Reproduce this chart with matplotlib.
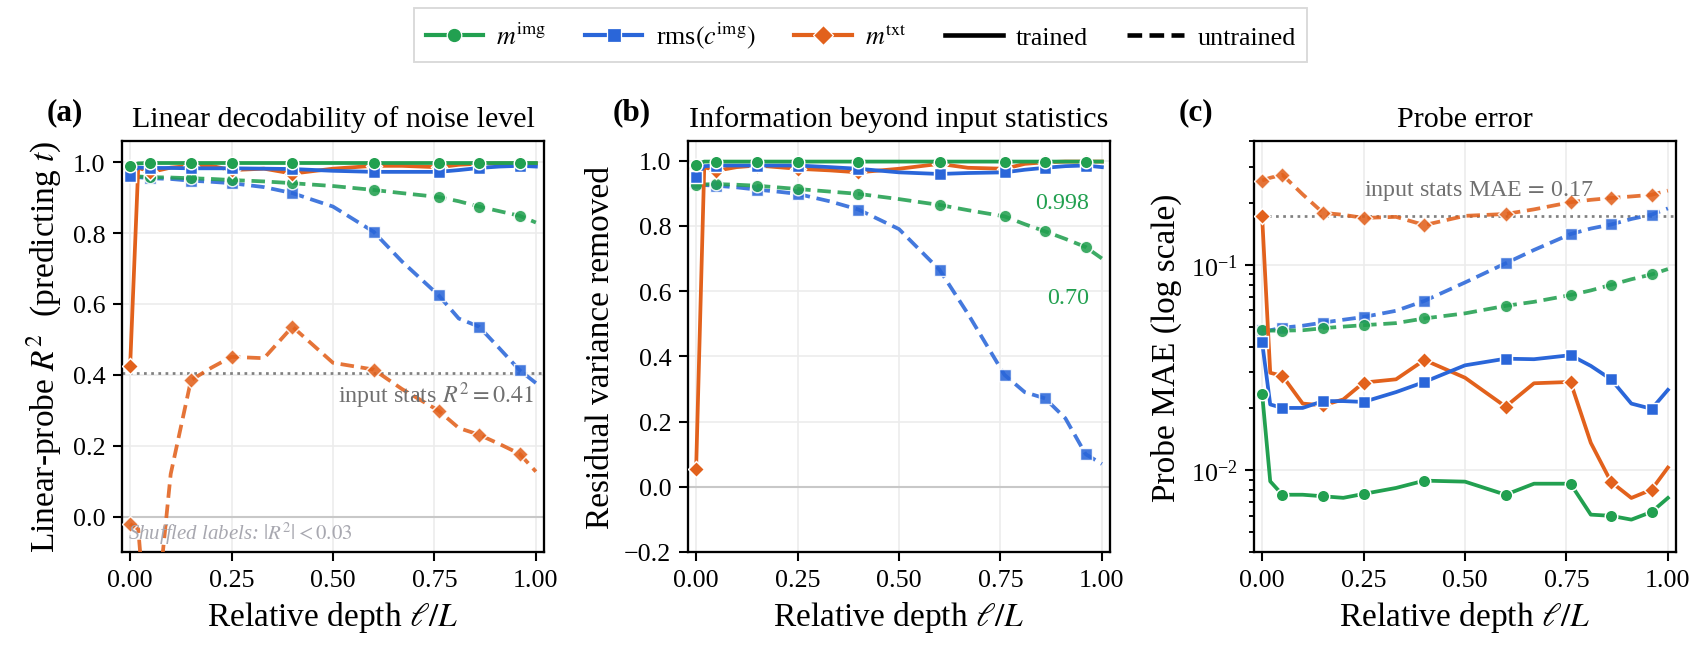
"""Layer-wise probes of the noise level: R^2, residual variance removed and MAE
for trained vs untrained networks, three probed quantities per layer."""
import matplotlib
matplotlib.use("Agg")
import matplotlib.pyplot as plt
from matplotlib.lines import Line2D
from matplotlib.ticker import FuncFormatter

plt.rcParams["font.family"] = ["Liberation Serif", "DejaVu Serif"]
plt.rcParams["mathtext.fontset"] = "stix"

GREEN, BLUE, ORANGE = "#22a050", "#2a66d9", "#e2611c"
GRID, ZERO, REF = "#ececec", "#c8c8c8", "#808080"

# relative depth l/L of every probed layer
X = [0, 0.02, 0.05, 0.1, 0.15, 0.2, 0.25, 0.33, 0.4, 0.5, 0.6, 0.67,
     0.76, 0.81, 0.86, 0.91, 0.96, 1.0]

# (a) linear-probe R^2
mimg_tr_a = [0.989, 0.997, 0.998, 0.998, 0.998, 0.998, 0.998, 0.998, 0.998,
             0.998, 0.998, 0.998, 0.998, 0.998, 0.998, 0.998, 0.998, 0.998]
rms_tr_a = [0.962, 0.985, 0.984, 0.984, 0.983, 0.983, 0.983, 0.982, 0.981,
            0.976, 0.973, 0.973, 0.973, 0.978, 0.984, 0.988, 0.990, 0.988]
mtxt_tr_a = [0.424, 0.985, 0.972, 0.985, 0.990, 0.990, 0.978, 0.982, 0.968,
             0.982, 0.990, 0.990, 0.986, 0.993, 0.996, 0.997, 0.997, 0.997]
mimg_un_a = [0.962, 0.960, 0.958, 0.957, 0.955, 0.953, 0.950, 0.946, 0.941,
             0.933, 0.922, 0.913, 0.902, 0.890, 0.875, 0.862, 0.849, 0.830]
rms_un_a = [0.962, 0.958, 0.955, 0.953, 0.948, 0.945, 0.941, 0.930, 0.913,
            0.875, 0.804, 0.720, 0.625, 0.559, 0.536, 0.475, 0.413, 0.377]
mtxt_un_a = [-0.021, -0.035, -0.45, 0.12, 0.385, 0.42, 0.451, 0.447, 0.536,
             0.434, 0.415, 0.36, 0.299, 0.25, 0.231, 0.205, 0.177, 0.127]

# (b) residual variance removed
mimg_tr_b = [0.987, 0.997, 0.997, 0.997, 0.997, 0.997, 0.997, 0.997, 0.997,
             0.997, 0.997, 0.997, 0.997, 0.997, 0.997, 0.997, 0.997, 0.997]
rms_tr_b = [0.949, 0.983, 0.985, 0.985, 0.985, 0.985, 0.985, 0.980, 0.975,
            0.964, 0.959, 0.962, 0.964, 0.972, 0.978, 0.983, 0.985, 0.980]
mtxt_tr_b = [0.054, 0.980, 0.969, 0.980, 0.985, 0.980, 0.975, 0.970, 0.964,
             0.975, 0.990, 0.978, 0.975, 0.990, 0.995, 0.997, 0.997, 0.997]
mimg_un_b = [0.925, 0.927, 0.928, 0.926, 0.923, 0.918, 0.913, 0.905, 0.898,
             0.882, 0.864, 0.848, 0.829, 0.805, 0.783, 0.760, 0.735, 0.700]
rms_un_b = [0.930, 0.925, 0.923, 0.918, 0.911, 0.905, 0.898, 0.875, 0.850,
            0.790, 0.665, 0.530, 0.343, 0.290, 0.271, 0.210, 0.100, 0.070]
mtxt_un_b = None  # untrained m_txt not shown in (b)

# (c) probe MAE
mimg_tr_c = [0.0236, 0.00883, 0.0076, 0.0076, 0.00747, 0.00734, 0.00767,
             0.0082, 0.0089, 0.0088, 0.0076, 0.0086, 0.0086, 0.00608, 0.0060,
             0.00575, 0.00627, 0.00733]
rms_tr_c = [0.042, 0.0209, 0.0201, 0.0201, 0.0217, 0.0217, 0.0215, 0.024,
            0.0269, 0.0324, 0.0349, 0.0347, 0.0363, 0.0322, 0.0277, 0.0211,
            0.0199, 0.0246]
mtxt_tr_c = [0.172, 0.0298, 0.0288, 0.0211, 0.0207, 0.0221, 0.0267, 0.0277,
             0.0344, 0.0282, 0.0204, 0.0265, 0.0269, 0.0136, 0.00877, 0.00733,
             0.00805, 0.0103]
mimg_un_c = [0.0482, 0.0478, 0.0478, 0.048, 0.0491, 0.050, 0.0508, 0.052,
             0.0548, 0.058, 0.0631, 0.066, 0.0712, 0.075, 0.0798, 0.085,
             0.0897, 0.0953]
rms_un_c = [0.048, 0.048, 0.0494, 0.0505, 0.0523, 0.054, 0.0557, 0.0597,
            0.0667, 0.082, 0.1016, 0.118, 0.141, 0.150, 0.157, 0.167, 0.1754,
            0.188]
mtxt_un_c = [0.257, 0.265, 0.274, 0.22, 0.179, 0.175, 0.169, 0.171, 0.156,
             0.173, 0.1766, 0.186, 0.2015, 0.207, 0.2113, 0.215, 0.219, 0.2295]

INPUT_R2, INPUT_MAE = 0.405, 0.173
B_NOTES = [("0.998", 0.87), ("0.70", 0.58)]

SERIES = [("mtxt", ORANGE, "D", 5.2), ("rms", BLUE, "s", 5.6), ("mimg", GREEN, "o", 6.0)]
minus = FuncFormatter(lambda v, _: f"{v:.1f}".replace("-", "\u2212"))


def draw(ax, tr, un):
    for key, col, mk, ms in SERIES:
        if un.get(key) is not None:
            ax.plot(X, un[key], color=col, ls="--", lw=1.8, alpha=0.88,
                    dashes=(3.6, 1.8), marker=mk, ms=ms, markevery=2,
                    mec="white", mew=0.7, zorder=3)
        ax.plot(X, tr[key], color=col, ls="-", lw=1.8, marker=mk,
                ms=ms, markevery=2, mec="white", mew=0.7, zorder=4)


def style(ax, title, label):
    ax.set_xlim(-0.02, 1.02)
    ax.set_xticks([0, 0.25, 0.5, 0.75, 1.0])
    ax.xaxis.set_major_formatter(FuncFormatter(lambda v, _: f"{v:.2f}"))
    ax.grid(True, color=GRID, lw=0.8, zorder=0)
    ax.set_axisbelow(True)
    ax.tick_params(labelsize=12.5, length=4.5, width=1.0)
    for s in ax.spines.values():
        s.set_linewidth(1.1)
    ax.set_title(title, fontsize=14.4, pad=7)
    ax.text(-0.178, 1.035, label, transform=ax.transAxes, fontsize=15,
            fontweight="bold", va="bottom")
    ax.set_xlabel(r"Relative depth $\ell/L$", fontsize=16)


def main():
    fig = plt.figure(figsize=(11.36, 4.393), dpi=150)
    W, H = 1704, 659
    rect = lambda l: [l / W, 1 - 553 / H, 422 / W, 411 / H]
    ax_a, ax_b, ax_c = (fig.add_axes(rect(l)) for l in (122, 688, 1254))

    # (a)
    ax_a.axhline(0, color=ZERO, lw=1.0, zorder=1)
    ax_a.axhline(INPUT_R2, color=REF, ls=":", lw=1.3, zorder=2)
    draw(ax_a, dict(mimg=mimg_tr_a, rms=rms_tr_a, mtxt=mtxt_tr_a),
         dict(mimg=mimg_un_a, rms=rms_un_a, mtxt=mtxt_un_a))
    ax_a.set_ylim(-0.1, 1.06)
    ax_a.set_yticks([0, 0.2, 0.4, 0.6, 0.8, 1.0])
    ax_a.yaxis.set_major_formatter(minus)
    ax_a.text(0.975, 0.344, r"input stats $R^2 = 0.41$",
              transform=ax_a.get_yaxis_transform(), ha="right", va="center",
              fontsize=11.5, color="#707070")
    ax_a.text(0.014, -0.045, r"Shuffled labels: $|R^2| < 0.03$",
              transform=ax_a.get_yaxis_transform(), ha="left", va="center",
              fontsize=10, color="#a8a8b0", style="italic")
    ax_a.set_ylabel(r"Linear-probe $R^2$  (predicting $t$)", fontsize=16)
    style(ax_a, "Linear decodability of noise level", "(a)")

    # (b)
    ax_b.axhline(0, color=ZERO, lw=1.0, zorder=1)
    draw(ax_b, dict(mimg=mimg_tr_b, rms=rms_tr_b, mtxt=mtxt_tr_b),
         dict(mimg=mimg_un_b, rms=rms_un_b, mtxt=mtxt_un_b))
    ax_b.set_ylim(-0.2, 1.06)
    ax_b.set_yticks([-0.2, 0, 0.2, 0.4, 0.6, 0.8, 1.0])
    ax_b.yaxis.set_major_formatter(minus)
    for txt, y in B_NOTES:
        ax_b.text(0.95, y, txt, transform=ax_b.get_yaxis_transform(),
                  ha="right", va="center", fontsize=11.5, color=GREEN)
    ax_b.set_ylabel("Residual variance removed", fontsize=16)
    style(ax_b, "Information beyond input statistics", "(b)")

    # (c)
    ax_c.axhline(INPUT_MAE, color=REF, ls=":", lw=1.3, zorder=2)
    draw(ax_c, dict(mimg=mimg_tr_c, rms=rms_tr_c, mtxt=mtxt_tr_c),
         dict(mimg=mimg_un_c, rms=rms_un_c, mtxt=mtxt_un_c))
    ax_c.set_yscale("log")
    ax_c.set_ylim(0.004, 0.4)
    ax_c.text(0.25, 0.232, r"input stats MAE$\,=\,$0.17", ha="left",
              va="center", fontsize=11.5, color="#707070")
    ax_c.set_ylabel("Probe MAE (log scale)", fontsize=16)
    style(ax_c, "Probe error", "(c)")
    ax_c.tick_params(which="minor", length=2.5, width=0.9)

    handles = [
        Line2D([], [], color=GREEN, marker="o", ms=7, lw=2.0, mec="white", mew=0.6),
        Line2D([], [], color=BLUE, marker="s", ms=7, lw=2.0, mec="white", mew=0.6),
        Line2D([], [], color=ORANGE, marker="D", ms=6.5, lw=2.0, mec="white", mew=0.6),
        Line2D([], [], color="black", lw=2.2),
        Line2D([], [], color="black", lw=2.2, ls="--", dashes=(3.2, 1.6)),
    ]
    labels = [r"$m^{\mathrm{img}}$", r"rms$(c^{\mathrm{img}})$",
              r"$m^{\mathrm{txt}}$", "trained", "untrained"]
    leg = fig.legend(handles, labels, loc="center", bbox_to_anchor=(0.505, 0.945),
                     ncol=5, fontsize=12.5, frameon=True, fancybox=False,
                     handlelength=2.2, handletextpad=0.5, columnspacing=1.5,
                     borderpad=0.45)
    leg.get_frame().set_edgecolor("#d0d0d0")
    leg.get_frame().set_linewidth(0.9)

    fig.savefig("out.png", dpi=150, facecolor="white")


if __name__ == "__main__":
    main()
